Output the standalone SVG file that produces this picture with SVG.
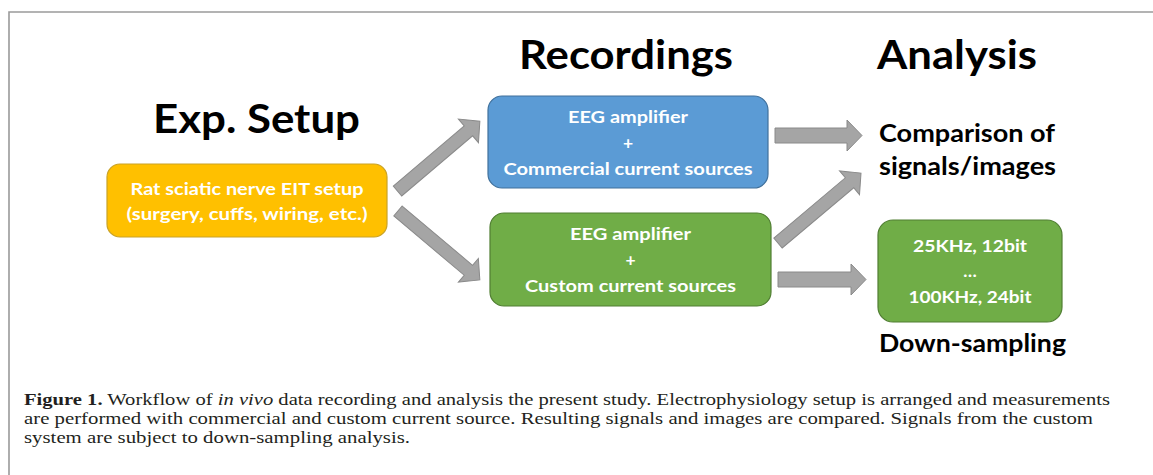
<svg xmlns="http://www.w3.org/2000/svg" width="1153" height="475" viewBox="0 0 1153 475">
<style>
.title{font-family:Lato,"Open Sans","Liberation Sans",sans-serif;font-weight:700;fill:#000}
.box{font-family:Lato,"Open Sans","Liberation Sans",sans-serif;font-weight:700;fill:#fff;font-size:17.5px;text-anchor:middle}
.lbl{font-family:Lato,"Open Sans","Liberation Sans",sans-serif;font-weight:700;fill:#000;font-size:25px}
.cap{font-family:"Liberation Serif","Times New Roman",serif;font-size:17.5px;fill:#231f20}
.arrow{fill:#A5A5A5;stroke:#8a8a8a;stroke-width:1}
</style>
<rect width="1153" height="475" fill="#fff"/>
<path d="M9,480 V12 H1160" fill="none" stroke="#9a9a9a" stroke-width="1.6"/>

<text class="title" x="153" y="133" font-size="41" textLength="207" lengthAdjust="spacingAndGlyphs">Exp. Setup</text>
<text class="title" x="519" y="69" font-size="41" textLength="214" lengthAdjust="spacingAndGlyphs">Recordings</text>
<text class="title" x="877" y="69" font-size="41" textLength="160" lengthAdjust="spacingAndGlyphs">Analysis</text>

<g id="connectors">
<polygon class="arrow" transform="translate(397.5,191) rotate(-40.3)" points="0,-6.5 93,-6.5 93,-15.5 108,0 93,15.5 93,6.5 0,6.5"/>
<polygon class="arrow" transform="translate(398,211) rotate(40.1)" points="0,-6.5 92,-6.5 92,-15.5 107,0 92,15.5 92,6.5 0,6.5"/>
<polygon class="arrow" transform="translate(775,135.5)" points="0,-7.5 72,-7.5 72,-15.5 87,0 72,15.5 72,7.5 0,7.5"/>
<polygon class="arrow" transform="translate(778,243) rotate(-40.1)" points="0,-6.5 93.5,-6.5 93.5,-15.5 108.5,0 93.5,15.5 93.5,6.5 0,6.5"/>
<polygon class="arrow" transform="translate(778,279.5)" points="0,-7.5 73,-7.5 73,-15.5 88,0 73,15.5 73,7.5 0,7.5"/>
</g>

<g id="setup">
<rect x="107" y="164" width="280" height="73" rx="13" fill="#FFC000" stroke="#C9A227" stroke-width="1.2"/>
<text class="box" x="247" y="195" textLength="233" lengthAdjust="spacingAndGlyphs">Rat sciatic nerve EIT setup</text>
<text class="box" x="247" y="220" textLength="241" lengthAdjust="spacingAndGlyphs">(surgery, cuffs, wiring, etc.)</text>
</g>

<g id="commercial">
<rect x="488" y="96" width="280" height="92" rx="14" fill="#5B9BD5" stroke="#41719C" stroke-width="1.2"/>
<text class="box" x="628" y="123" textLength="120" lengthAdjust="spacingAndGlyphs">EEG amplifier</text>
<text class="box" x="628" y="149">+</text>
<text class="box" x="628" y="175" textLength="249" lengthAdjust="spacingAndGlyphs">Commercial current sources</text>
</g>

<g id="custom">
<rect x="490" y="213" width="281" height="93" rx="14" fill="#70AD47" stroke="#507E32" stroke-width="1.2"/>
<text class="box" x="630.5" y="240" textLength="121" lengthAdjust="spacingAndGlyphs">EEG amplifier</text>
<text class="box" x="630.5" y="266">+</text>
<text class="box" x="630.5" y="292" textLength="211" lengthAdjust="spacingAndGlyphs">Custom current sources</text>
</g>

<g id="downsample">
<rect x="878" y="220" width="184" height="102" rx="15" fill="#70AD47" stroke="#507E32" stroke-width="1.2"/>
<text class="box" x="970" y="252" textLength="114" lengthAdjust="spacingAndGlyphs">25KHz, 12bit</text>
<text class="box" x="970" y="277">…</text>
<text class="box" x="970" y="303" textLength="123" lengthAdjust="spacingAndGlyphs">100KHz, 24bit</text>
</g>

<g id="comparison">
<text class="lbl" x="879" y="142" textLength="176" lengthAdjust="spacingAndGlyphs">Comparison of</text>
<text class="lbl" x="879" y="175" textLength="177" lengthAdjust="spacingAndGlyphs">signals/images</text>
</g>
<g id="downlabel">
<text class="lbl" x="879" y="352" textLength="187" lengthAdjust="spacingAndGlyphs">Down-sampling</text>
</g>

<g id="caption">
<text class="cap" x="24" y="405" textLength="1086" lengthAdjust="spacingAndGlyphs"><tspan font-weight="700">Figure 1.</tspan> Workflow of <tspan font-style="italic">in vivo</tspan> data recording and analysis the present study. Electrophysiology setup is arranged and measurements</text>
<text class="cap" x="24" y="424" textLength="1069" lengthAdjust="spacingAndGlyphs">are performed with commercial and custom current source. Resulting signals and images are compared. Signals from the custom</text>
<text class="cap" x="24" y="443" textLength="386" lengthAdjust="spacingAndGlyphs">system are subject to down-sampling analysis.</text>
</g>
</svg>
